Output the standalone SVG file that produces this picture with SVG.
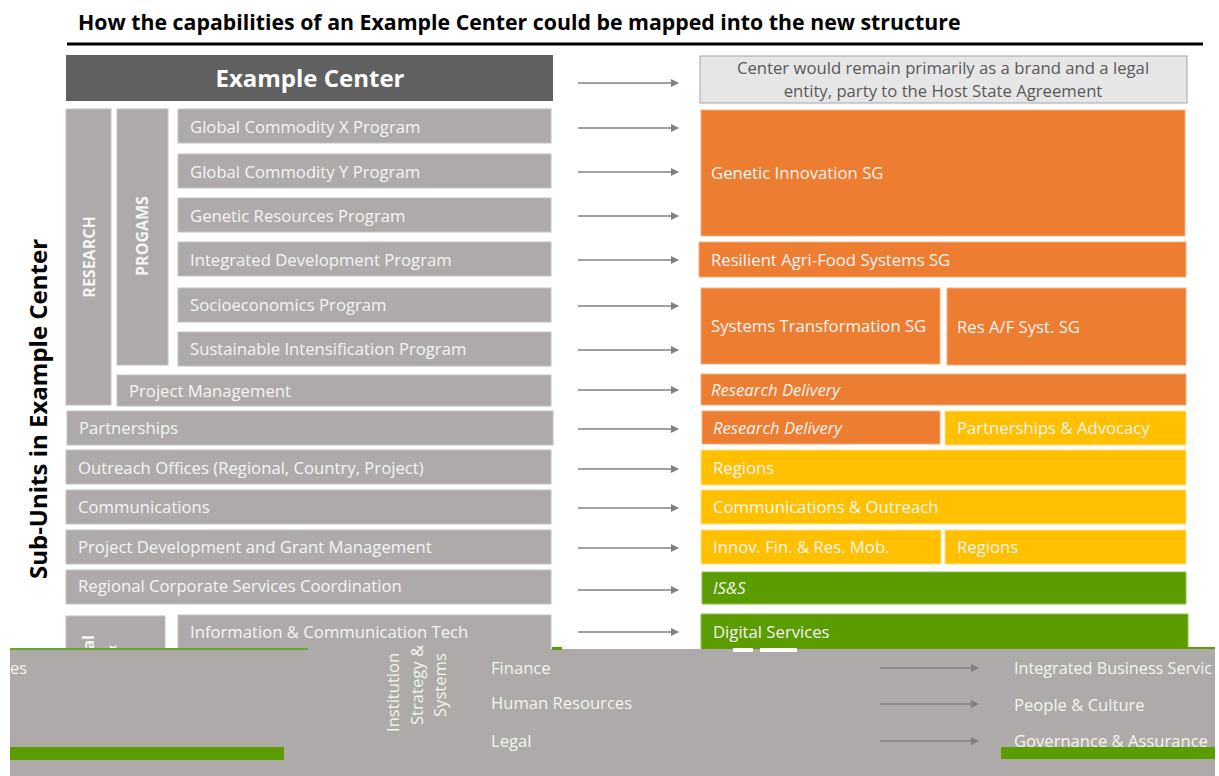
<svg xmlns="http://www.w3.org/2000/svg" width="1219" height="776" viewBox="0 0 1219 776">
<defs>
<style>
.bg{fill:#ffffff}
.gb{fill:#aeaaaa;stroke:#c4c1c1;stroke-width:1}
.ob{fill:#ed7d31;stroke:#f4b183;stroke-width:1}
.yb{fill:#ffc000;stroke:#ffe38a;stroke-width:1}
.grb{fill:#5b9c00;stroke:#8fc24a;stroke-width:1}
.t{font-family:"Open Sans","Noto Sans",sans-serif;font-size:16.7px;fill:#f5f5f5}
.ti{font-style:italic}
.vt{font-family:"Open Sans","Noto Sans",sans-serif;font-size:16px;font-weight:bold;fill:#f5f5f5;text-anchor:middle}
.vte{text-anchor:end}
.conn line{stroke:#808080;stroke-width:1.5}
.gl{font-family:"Open Sans","Noto Sans",sans-serif;font-size:16.6px;fill:#f2f7ea}
</style>
<marker id="ah" markerWidth="8" markerHeight="8" refX="7" refY="4" orient="auto" markerUnits="userSpaceOnUse">
<path d="M0,0 L8,4 L0,8 z" fill="#808080"/>
</marker>
<clipPath id="clipIS"><rect x="66" y="616" width="99" height="33"/></clipPath>
</defs>
<rect class="bg" x="0" y="0" width="1219" height="776"/>

<g id="title">
<text x="78" y="30" font-family="'Open Sans','Noto Sans',sans-serif" font-size="21.3" font-weight="bold" fill="#000">How the capabilities of an Example Center could be mapped into the new structure</text>
<line x1="67" y1="44" x2="1203" y2="44" stroke="#000" stroke-width="3"/>
</g>

<g id="side-label">
<text transform="translate(47,409) rotate(-90)" text-anchor="middle" font-family="'Open Sans','Noto Sans',sans-serif" font-size="24" font-weight="bold" fill="#000">Sub-Units in Example Center</text>
</g>

<g id="example-center">
<rect x="66" y="55" width="487" height="46" fill="#606060"/>
<text x="310" y="87" text-anchor="middle" font-family="'Open Sans','Noto Sans',sans-serif" font-size="24" font-weight="bold" fill="#fff">Example Center</text>
</g>
<g id="center-remain">
<rect x="700" y="56" width="487" height="47" fill="#e7e6e6" stroke="#a5a5a5" stroke-width="1"/>
<text x="943" y="74" text-anchor="middle" font-family="'Open Sans','Noto Sans',sans-serif" font-size="16.7" fill="#595959">Center would remain primarily as a brand and a legal</text>
<text x="943" y="97" text-anchor="middle" font-family="'Open Sans','Noto Sans',sans-serif" font-size="16.7" fill="#595959">entity, party to the Host State Agreement</text>
</g>

<g id="research"><rect class="gb" x="66" y="109" width="45" height="296"/><text class="vt" transform="translate(95,257) rotate(-90)">RESEARCH</text></g>
<g id="programs"><rect class="gb" x="117" y="109" width="51" height="256"/><text class="vt" transform="translate(148,236) rotate(-90)">PROGAMS</text></g>

<g id="gcx"><rect class="gb" x="178" y="109" width="373" height="34"/><text class="t" x="190" y="133">Global Commodity X Program</text></g>
<g id="gcy"><rect class="gb" x="178" y="154" width="373" height="34"/><text class="t" x="190" y="178">Global Commodity Y Program</text></g>
<g id="grp"><rect class="gb" x="178" y="198" width="373" height="34"/><text class="t" x="190" y="222">Genetic Resources Program</text></g>
<g id="idp"><rect class="gb" x="178" y="242" width="373" height="34"/><text class="t" x="190" y="266">Integrated Development Program</text></g>
<g id="sep"><rect class="gb" x="178" y="288" width="373" height="34"/><text class="t" x="190" y="311">Socioeconomics Program</text></g>
<g id="sip"><rect class="gb" x="178" y="332" width="373" height="34"/><text class="t" x="190" y="355">Sustainable Intensification Program</text></g>
<g id="pm"><rect class="gb" x="117" y="375" width="434" height="31"/><text class="t" x="129" y="397">Project Management</text></g>
<g id="partnerships"><rect class="gb" x="67" y="411" width="486" height="34"/><text class="t" x="79" y="434">Partnerships</text></g>
<g id="outreach"><rect class="gb" x="66" y="450" width="485" height="34"/><text class="t" x="78" y="474">Outreach Offices (Regional, Country, Project)</text></g>
<g id="comms"><rect class="gb" x="66" y="490" width="485" height="34"/><text class="t" x="78" y="513">Communications</text></g>
<g id="pdgm"><rect class="gb" x="66" y="530" width="485" height="34"/><text class="t" x="78" y="553">Project Development and Grant Management</text></g>
<g id="rcsc"><rect class="gb" x="66" y="570" width="485" height="34"/><text class="t" x="78" y="592">Regional Corporate Services Coordination</text></g>
<g id="iss-left"><rect class="gb" x="66" y="616" width="99" height="40"/>
<g clip-path="url(#clipIS)">
<text class="vt vte" transform="translate(94,635) rotate(-90)">Institutional</text>
<text class="vt vte" transform="translate(116,645) rotate(-90)">Strategy &amp;</text>
</g></g>
<g id="ict"><rect class="gb" x="178" y="615" width="373" height="40"/><text class="t" x="190" y="638">Information &amp; Communication Tech</text></g>

<g id="gi"><rect class="ob" x="701" y="110" width="484" height="126"/><text class="t" x="711" y="179">Genetic Innovation SG</text></g>
<g id="rafs"><rect class="ob" x="699" y="242" width="487" height="35"/><text class="t" x="711" y="266">Resilient Agri-Food Systems SG</text></g>
<g id="st"><rect class="ob" x="701" y="288" width="239" height="76"/><text class="t" x="711" y="332">Systems Transformation SG</text></g>
<g id="rafss"><rect class="ob" x="947" y="288" width="239" height="77"/><text class="t" x="957" y="333">Res A/F Syst. SG</text></g>
<g id="rd1"><rect class="ob" x="701" y="374" width="485" height="31"/><text class="t ti" x="711" y="396">Research Delivery</text></g>
<g id="rd2"><rect class="ob" x="702" y="411" width="238" height="33"/><text class="t ti" x="713" y="434">Research Delivery</text></g>
<g id="pa"><rect class="yb" x="945" y="411" width="241" height="34"/><text class="t" x="957" y="434">Partnerships &amp; Advocacy</text></g>
<g id="regions1"><rect class="yb" x="701" y="450" width="485" height="35"/><text class="t" x="713" y="474">Regions</text></g>
<g id="co"><rect class="yb" x="701" y="490" width="485" height="34"/><text class="t" x="713" y="513">Communications &amp; Outreach</text></g>
<g id="ifrm"><rect class="yb" x="701" y="530" width="240" height="34"/><text class="t" x="713" y="553">Innov. Fin. &amp; Res. Mob.</text></g>
<g id="regions2"><rect class="yb" x="945" y="530" width="241" height="34"/><text class="t" x="957" y="553">Regions</text></g>
<g id="iss"><rect class="grb" x="702" y="572" width="484" height="32"/><text class="t ti" x="713" y="594">IS&amp;S</text></g>
<g id="ds"><rect class="grb" x="701" y="614" width="487" height="40"/><text class="t" x="713" y="638">Digital Services</text></g>

<g class="conn" id="connectors">
<line x1="578" y1="83" x2="678" y2="83" marker-end="url(#ah)"/>
<line x1="578" y1="128" x2="678" y2="128" marker-end="url(#ah)"/>
<line x1="578" y1="172" x2="678" y2="172" marker-end="url(#ah)"/>
<line x1="578" y1="216" x2="678" y2="216" marker-end="url(#ah)"/>
<line x1="578" y1="260" x2="678" y2="260" marker-end="url(#ah)"/>
<line x1="578" y1="306" x2="678" y2="306" marker-end="url(#ah)"/>
<line x1="578" y1="350" x2="678" y2="350" marker-end="url(#ah)"/>
<line x1="578" y1="390" x2="678" y2="390" marker-end="url(#ah)"/>
<line x1="578" y1="429" x2="678" y2="429" marker-end="url(#ah)"/>
<line x1="578" y1="469" x2="678" y2="469" marker-end="url(#ah)"/>
<line x1="578" y1="508" x2="678" y2="508" marker-end="url(#ah)"/>
<line x1="578" y1="548" x2="678" y2="548" marker-end="url(#ah)"/>
<line x1="578" y1="590" x2="678" y2="590" marker-end="url(#ah)"/>
<line x1="578" y1="632" x2="678" y2="632" marker-end="url(#ah)"/>
</g>

<g id="glitch-band">
<rect x="10" y="649" width="1205" height="127" fill="#adaaa9"/>
<rect x="10" y="648" width="298" height="2" fill="#6aa52a"/>
<rect x="552" y="647" width="10" height="3" fill="#5b9c00"/>
<rect x="967" y="647" width="248" height="2" fill="#5b9c00"/>
<rect x="733" y="648" width="20" height="4" fill="#ffffff"/>
<rect x="760" y="648" width="37" height="4" fill="#ffffff"/>
<rect x="10" y="747" width="274" height="13" fill="#5b9c00"/>
<rect x="1001" y="747" width="214" height="12" fill="#5b9c00"/>
<text class="gl" x="10" y="674">es</text>
<text class="gl" transform="translate(399,732) rotate(-90)">Institution</text>
<text class="gl" transform="translate(423,725) rotate(-90)">Strategy &amp;</text>
<text class="gl" transform="translate(446,717) rotate(-90)">Systems</text>
<text class="gl" x="491" y="674">Finance</text>
<text class="gl" x="491" y="709">Human Resources</text>
<text class="gl" x="491" y="747">Legal</text>
<line x1="880" y1="668" x2="978" y2="668" stroke="#808080" stroke-width="1.5" marker-end="url(#ah)"/>
<line x1="880" y1="704" x2="978" y2="704" stroke="#808080" stroke-width="1.5" marker-end="url(#ah)"/>
<line x1="880" y1="741" x2="978" y2="741" stroke="#808080" stroke-width="1.5" marker-end="url(#ah)"/>
<text class="gl" x="1014" y="674" style="font-size:16.2px">Integrated Business Servic</text>
<text class="gl" x="1014" y="711">People &amp; Culture</text>
<text class="gl" x="1014" y="747">Governance &amp; Assurance</text>
</g>
</svg>
